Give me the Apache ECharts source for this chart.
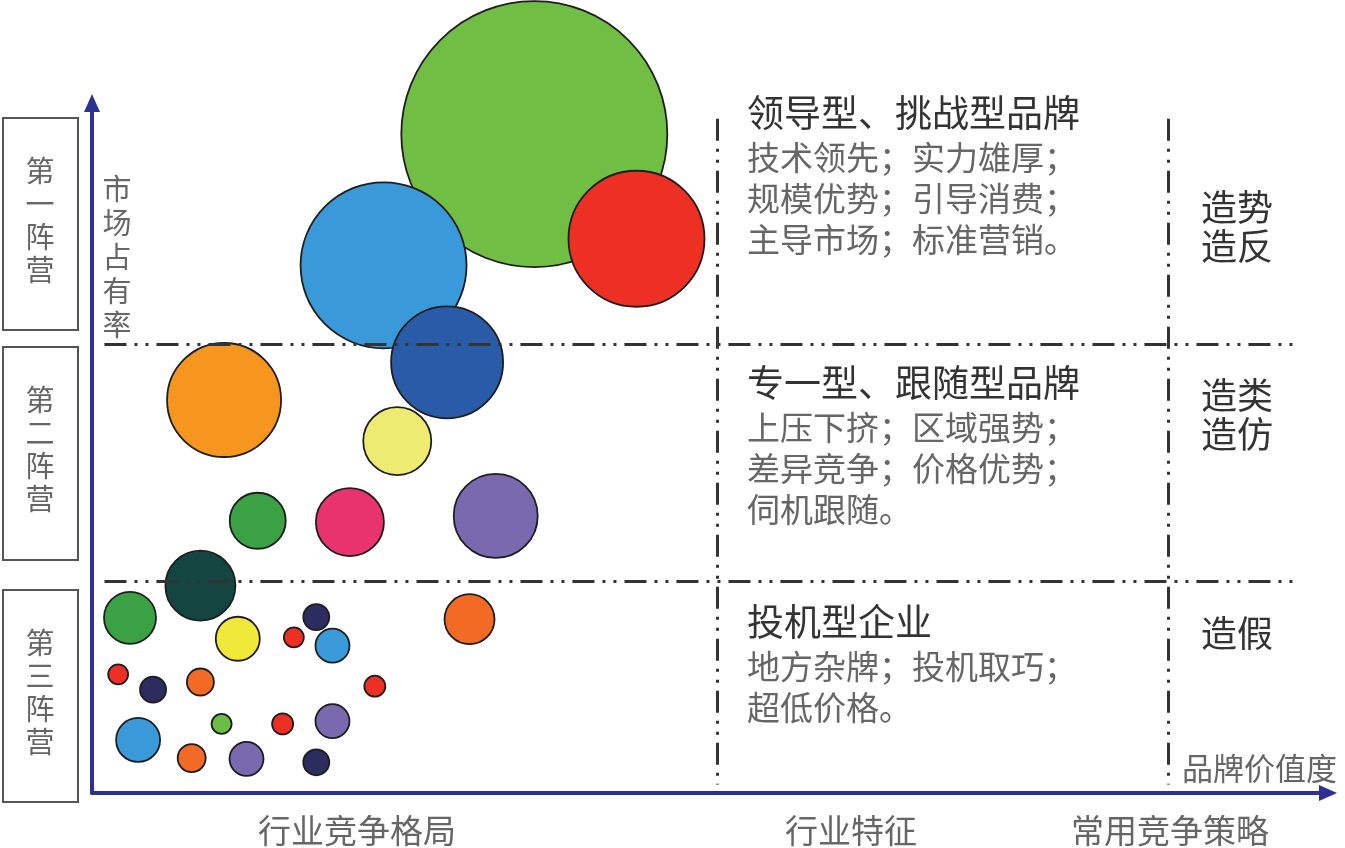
<!DOCTYPE html>
<html>
<head>
<meta charset="utf-8">
<script src="https://cdn.jsdelivr.net/npm/echarts@6/dist/echarts.min.js"></script>
<style>
  html, body { margin: 0; padding: 0; background: #fff; }
  #chart { width: 1345px; height: 848px; }
</style>
</head>
<body>
<div id="chart"></div>
<script>
// bubbles: brand value (x), market share (y), bubble size
const bubbleX = [35.5, 43.7, 23.4, 28.5, 10.6, 24.5, 13.3, 20.7, 32.4, 8.7,
  3.05, 11.7, 18.0, 16.2, 19.3, 2.1, 4.9, 8.7, 22.7, 3.7,
  10.4, 15.3, 19.3, 8.0, 12.4, 18.0, 30.3];
const bubbleY = [94.4, 79.4, 75.6, 61.7, 56.3, 50.4, 39.0, 38.8, 39.7, 29.7,
  25.1, 22.1, 25.2, 22.3, 21.1, 17.0, 14.8, 15.9, 15.3, 7.6,
  9.9, 9.9, 10.3, 5.0, 4.9, 4.4, 24.9];
const bubbleSize = [266, 136, 166, 112, 114, 68, 56, 68, 84, 70,
  52, 44, 26, 20, 34, 20, 26, 27, 21, 44,
  20, 21, 34, 28, 34, 26, 50];
const bubbleColors = ['#70bf44', '#ed2f24', '#3a9ad9', '#2a5ba8', '#f7961f', '#eeeb73', '#3aa245', '#e8336f', '#7b69b0', '#144540',
  '#3aa245', '#f0e93a', '#2c2c5e', '#ed2f24', '#3a9ad9', '#ed2f24', '#2c2c5e', '#f26a24', '#ed2f24', '#3a9ad9',
  '#6cbd45', '#ed2f24', '#7b69b0', '#f26a24', '#7b69b0', '#2c2c5e', '#f26a24'];

// tier separators (market share) and column separators (brand value)
const tierLines = [64.3, 30.4];
const columnLines = [50.2, 86.4];

const tierNames = ['第一阵营', '第二阵营', '第三阵营'];
const tierTitles = ['领导型、挑战型品牌', '专一型、跟随型品牌', '投机型企业'];
const tierDesc = [
  ['技术领先；实力雄厚；', '规模优势；引导消费；', '主导市场；标准营销。'],
  ['上压下挤；区域强势；', '差异竞争；价格优势；', '伺机跟随。'],
  ['地方杂牌；投机取巧；', '超低价格。']
];
const tierStrategy = [['造势', '造反'], ['造类', '造仿'], ['造假']];
const bottomLabels = ['行业竞争格局', '行业特征', '常用竞争策略'];

const font = '"Noto Sans CJK SC", "Noto Sans", sans-serif';
const axisColor = '#2e3192';

const bubbleData = bubbleX.map((x, i) => ({
  value: [x, bubbleY[i], bubbleSize[i]],
  itemStyle: { color: bubbleColors[i] }
}));

const dashDot = [22, 8, 3, 8, 3, 8];
const sepLines = [];
tierLines.forEach((y) => {
  sepLines.push([{ coord: [1.0, y] }, { coord: [96.5, y] }]);
});
columnLines.forEach((x) => {
  // drawn top-down so the pattern starts with a dash at the top
  sepLines.push([{ coord: [x, 96.6] }, { coord: [x, 1.2] }]);
});

// left boxes, text blocks
const boxTops = [118, 347, 590];
const boxHeights = [212, 213, 212];
const titleTops = [113, 383, 622];
const stratTops = [227, 415, 633];

const graphics = [];
tierNames.forEach((name, i) => {
  graphics.push({
    type: 'rect',
    shape: { x: 3, y: boxTops[i], width: 75, height: boxHeights[i] },
    style: { fill: 'none', stroke: '#555', lineWidth: 2 }
  });
  graphics.push({
    type: 'text',
    x: 40, y: boxTops[i] + boxHeights[i] / 2 - 4,
    style: {
      text: name.split('').join('\n'), font: '29px ' + font, fill: '#666',
      align: 'center', verticalAlign: 'middle', lineHeight: 33
    }
  });
  graphics.push({
    type: 'text',
    x: 747, y: titleTops[i],
    style: {
      text: tierTitles[i], font: '37px ' + font, fill: '#333',
      align: 'left', verticalAlign: 'middle'
    }
  });
  graphics.push({
    type: 'text',
    x: 747, y: titleTops[i] + 24,
    style: {
      text: tierDesc[i].join('\n'), font: '33px ' + font, fill: '#666',
      align: 'left', verticalAlign: 'top', lineHeight: 41
    }
  });
  graphics.push({
    type: 'text',
    x: 1201, y: stratTops[i],
    style: {
      text: tierStrategy[i].join('\n'), font: '36px ' + font, fill: '#333',
      align: 'left', verticalAlign: 'middle', lineHeight: 39
    }
  });
});
graphics.push({
  type: 'text', x: 117, y: 257,
  style: {
    text: '市场占有率'.split('').join('\n'), font: '29px ' + font, fill: '#666',
    align: 'center', verticalAlign: 'middle', lineHeight: 34
  }
});
graphics.push({
  type: 'text', x: 1182, y: 768,
  style: { text: '品牌价值度', font: '31px ' + font, fill: '#666', align: 'left', verticalAlign: 'middle' }
});
const bottomCenters = [357, 851, 1170];
bottomLabels.forEach((t, i) => {
  graphics.push({
    type: 'text', x: bottomCenters[i], y: 830,
    style: { text: t, font: '33px ' + font, fill: '#666', align: 'center', verticalAlign: 'middle' }
  });
});

const chart = echarts.init(document.getElementById('chart'));
chart.setOption({
  animation: false,
  grid: { left: 92, top: 103, width: 1236, height: 690 },
  xAxis: {
    type: 'value', min: 0, max: 99.2,
    axisLine: {
      show: true, onZero: false,
      lineStyle: { color: axisColor, width: 4 },
      symbol: ['none', 'triangle'], symbolSize: [16, 18]
    },
    axisTick: { show: false }, axisLabel: { show: false }, splitLine: { show: false }
  },
  yAxis: {
    type: 'value', min: 0, max: 98.85,
    axisLine: {
      show: true, onZero: false,
      lineStyle: { color: axisColor, width: 4 },
      symbol: ['none', 'triangle'], symbolSize: [16, 18]
    },
    axisTick: { show: false }, axisLabel: { show: false }, splitLine: { show: false }
  },
  series: [
    {
      type: 'line', data: [], silent: true, z: 1,
      markLine: {
        silent: true, symbol: 'none', label: { show: false },
        lineStyle: { color: '#333', width: 3, type: dashDot },
        data: sepLines
      }
    },
    {
      type: 'scatter', z: 3, clip: false,
      data: bubbleData,
      symbolSize: (v) => v[2],
      itemStyle: { borderColor: '#1e1e1e', borderWidth: 1.8, opacity: 1 }
    }
  ],
  graphic: graphics
});
</script>
</body>
</html>
